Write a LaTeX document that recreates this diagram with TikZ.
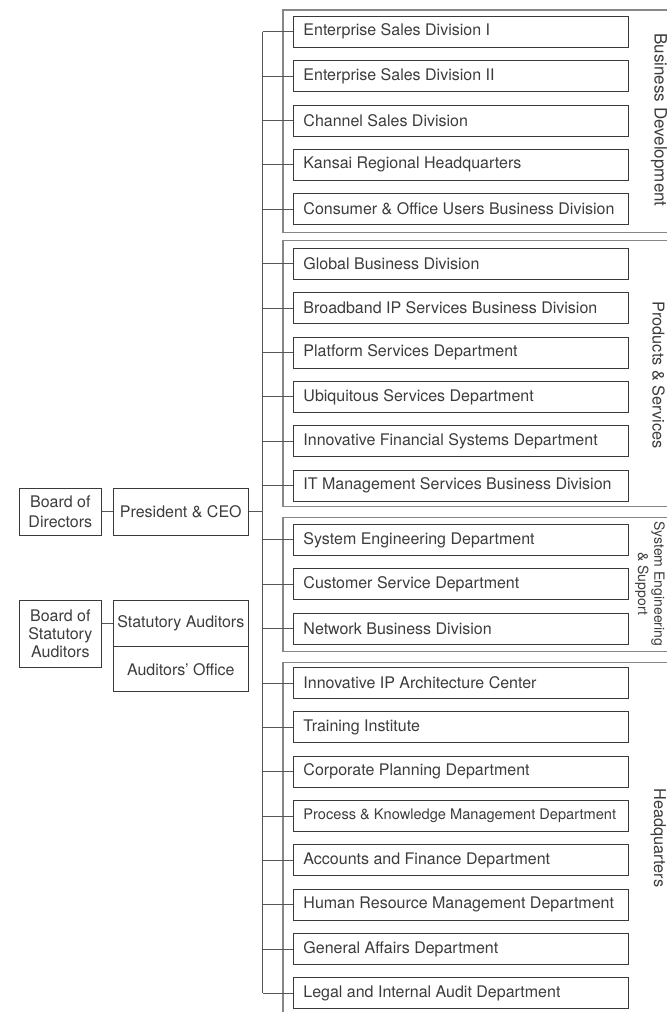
\documentclass[tikz,border=0pt]{standalone}
\usepackage{fontspec}
\setmainfont{TeX Gyre Heros}
\definecolor{boxc}{HTML}{3A3A3A}
\definecolor{grpc}{HTML}{878787}
\definecolor{linec}{HTML}{555555}
\definecolor{txtc}{HTML}{3C3C3C}
\begin{document}
\begin{tikzpicture}[x=1pt,y=-1pt,
  unit/.style={draw=boxc, line width=0.9pt, anchor=west, minimum width=335pt,
    minimum height=31pt, text width=318pt, inner xsep=8.5pt, inner ysep=0pt,
    align=flush left, text=txtc, font=\fontsize{16}{19}\selectfont},
  lbox/.style={draw=boxc, line width=0.9pt, align=center, inner sep=1pt,
    text=txtc, font=\fontsize{16}{20}\selectfont},
  grp/.style={draw=grpc, line width=1.3pt},
  glabel/.style={rotate=-90, text=txtc, align=center, inner sep=0pt,
    font=\fontsize{16.3}{19}\selectfont},
  conn/.style={draw=linec, line width=1pt}]
\useasboundingbox (0,0) rectangle (667,1012);

% group frames
\draw[grp] (667,10) -| (283,232.5) -- (667,232.5);
\draw[grp] (667,240.7) -| (283,506.7) -- (667,506.7);
\draw[grp] (667,517.3) -| (283,651.7) -- (667,651.7);
\draw[grp] (667,662.3) -| (283,1014);

% group labels
\node[glabel, font=\fontsize{17}{19}\selectfont] (gbd) at (659,120) {Business Development};
\node[glabel] (gps) at (658.5,375) {Products \& Services};
\node[glabel, font=\fontsize{14}{16.3}\selectfont] (gses) at (650,583.7) {System Engineering\\\& Support};
\node[glabel] (ghq) at (658.3,838) {Headquarters};

% units
\node[unit] (e1) at (293,31.7) {\mbox{\hspace{1.5pt}Enterprise Sales Division I}};
\node[unit] (e2) at (293,76.1) {\mbox{\hspace{1.5pt}Enterprise Sales Division II}};
\node[unit] (e3) at (293,120.5) {\mbox{\hspace{1.5pt}Channel Sales Division}};
\node[unit] (e4) at (293,164.8) {\mbox{\hspace{1.5pt}Kansai Regional Headquarters}};
\node[unit] (e5) at (293,209.1) {\mbox{\hspace{1.5pt}Consumer \& Office Users Business Division}};

\node[unit] (p1) at (293,263.8) {\mbox{\hspace{1.5pt}Global Business Division}};
\node[unit] (p2) at (293,308.1) {\mbox{\hspace{1.5pt}Broadband IP Services Business Division}};
\node[unit] (p3) at (293,352.5) {\mbox{\hspace{1.5pt}Platform Services Department}};
\node[unit] (p4) at (293,396.8) {\mbox{\hspace{1.5pt}Ubiquitous Services Department}};
\node[unit] (p5) at (293,441.2) {\mbox{\hspace{1.5pt}Innovative Financial Systems Department}};
\node[unit] (p6) at (293,485.5) {\mbox{\hspace{1.5pt}IT Management Services Business Division}};

\node[unit] (s1) at (293,539.8) {\mbox{\hspace{1.5pt}System Engineering Department}};
\node[unit] (s2) at (293,584.2) {\mbox{\hspace{1.5pt}Customer Service Department}};
\node[unit] (s3) at (293,628.5) {\mbox{\hspace{1.5pt}Network Business Division}};

\node[unit] (h1) at (293,683) {\mbox{\hspace{1.5pt}Innovative IP Architecture Center}};
\node[unit] (h2) at (293,727.3) {\mbox{\hspace{1.5pt}Training Institute}};
\node[unit] (h3) at (293,771.7) {\mbox{\hspace{1.5pt}Corporate Planning Department}};
\node[unit, font=\fontsize{14.6}{18}\selectfont] (h4) at (293,816) {\mbox{\hspace{1.5pt}Process \& Knowledge Management Department}};
\node[unit] (h5) at (293,860.4) {\mbox{\hspace{1.5pt}Accounts and Finance Department}};
\node[unit] (h6) at (293,904.7) {\mbox{\hspace{1.5pt}Human Resource Management Department}};
\node[unit] (h7) at (293,949.1) {\mbox{\hspace{1.5pt}General Affairs Department}};
\node[unit] (h8) at (293,993.4) {\mbox{\hspace{1.5pt}Legal and Internal Audit Department}};

% left side
\node[lbox, minimum width=82.7pt, minimum height=46.7pt] (bod) at (60.35,511.65) {Board of\\Directors};
\node[lbox, minimum width=135pt, minimum height=46.7pt] (ceo) at (180.8,511.65) {President \& CEO};
\node[lbox, minimum width=82.7pt, minimum height=67.7pt, font=\fontsize{16}{18.3}\selectfont] (bsa) at (60.35,633.85) {Board of\\Statutory\\Auditors};
\node[lbox, minimum width=135pt, minimum height=46.7pt] (sa) at (180.8,623.35) {Statutory Auditors};
\node[lbox, minimum width=135pt, minimum height=45pt] (ao) at (180.8,669.2) {Auditors’ Office};

% trunk
\coordinate (trunk) at (262.7,0);
\draw[conn] (e1.west -| trunk) -- (h8.west -| trunk);
\foreach \n in {e1,e2,e3,e4,e5,p1,p2,p3,p4,p5,p6,s1,s2,s3,h1,h2,h3,h4,h5,h6,h7,h8}
  \draw[conn] (\n.west -| trunk) -- (\n.west);
\draw[conn] (ceo.east) -- (ceo.east -| trunk);
\draw[conn] (bod.east) -- (ceo.west);
\draw[conn] (sa.west -| bsa.east) -- (sa.west);
\end{tikzpicture}
\end{document}
